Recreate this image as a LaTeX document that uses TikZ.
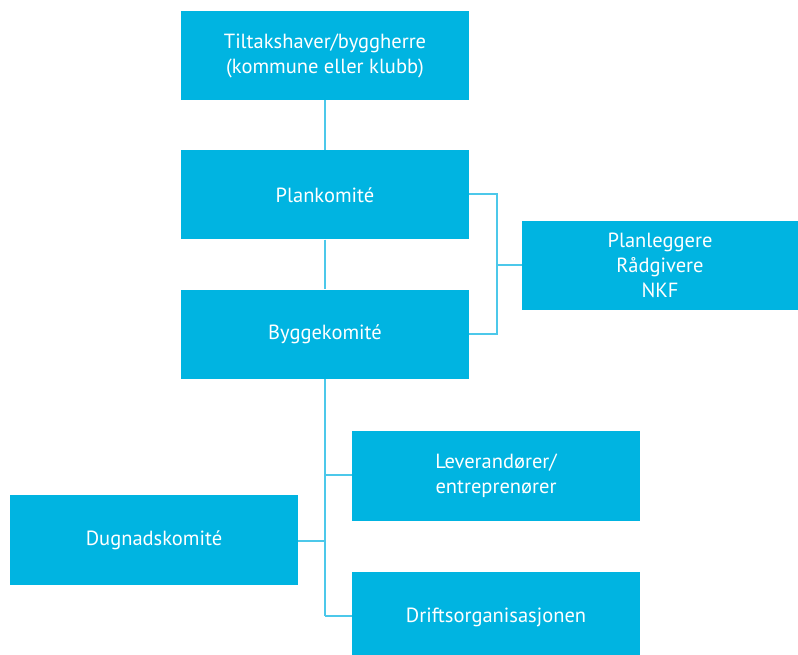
\documentclass[tikz,border=0pt]{standalone}
\usepackage{fontspec}
\setmainfont{PT Sans}
\definecolor{boxblue}{HTML}{00B4E1}
\definecolor{lineblue}{HTML}{4CC8EA}
\begin{document}
\begin{tikzpicture}[x=1pt,y=-1pt,
  orgbox/.style={fill=boxblue,draw=none,text=white,align=center,inner sep=0pt,
    font=\fontsize{20.5}{25}\selectfont},
  conn/.style={draw=lineblue,line width=1.3pt}]
\useasboundingbox (0,0) rectangle (798,655);
\clip (0,0) rectangle (798,655);
\node[orgbox,minimum width=288pt,minimum height=89pt] (top) at (325,55.5) {Tiltakshaver/byggherre\\(kommune eller klubb)};
\node[orgbox,minimum width=288pt,minimum height=89pt] (plan) at (325,195) {Plankomité};
\node[orgbox,minimum width=288pt,minimum height=89pt] (bygg) at (325,334) {Byggekomité};
\node[orgbox,minimum width=276pt,minimum height=89pt] (raad) at (660,265.5) {Planleggere\\Rådgivere\\NKF};
\node[orgbox,minimum width=288pt,minimum height=90pt] (lev) at (496,476) {Leverandører/\\entreprenører};
\node[orgbox,minimum width=288pt,minimum height=90pt] (dug) at (154,540) {Dugnadskomité};
\node[orgbox,minimum width=288pt,minimum height=90pt] (drift) at (496,617) {Driftsorganisasjonen};
\coordinate (bk) at (497,265);
\coordinate (bot) at (325,616);
\draw[conn] (top.south) -- (plan.north);
\draw[conn] (plan.south) -- (bygg.north);
\draw[conn] (plan.east |- 0,194) -| (bk) |- (bygg.east |- 0,334);
\draw[conn] (bk) -- (raad.west |- bk);
\draw[conn] (bygg.south) -- (bot);
\draw[conn] (lev.west |- 0,475) -- (325,475);
\draw[conn] (dug.east |- 0,541) -- (325,541);
\draw[conn] (drift.west |- bot) -- (bot);
\end{tikzpicture}
\end{document}
